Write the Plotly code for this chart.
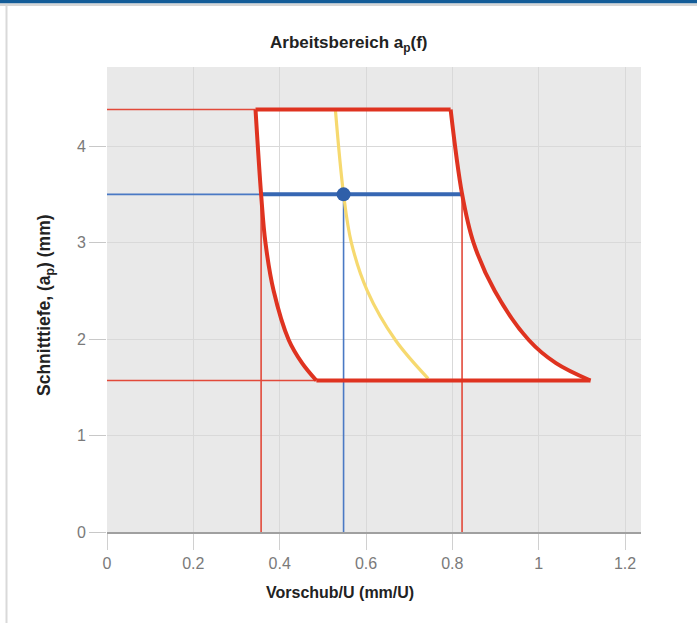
import plotly.graph_objects as go

# ---- data ----
ap_max = 4.38          # upper cutting depth limit (mm)
ap_min = 1.57          # lower cutting depth limit (mm)
f_sel = 0.548          # selected feed (mm/U)
ap_sel = 3.5           # selected cutting depth (mm)
f_min_at_sel = 0.357   # left boundary at selected depth
f_max_at_sel = 0.8225  # right boundary at selected depth

f_left = [0.344, 0.357, 0.367, 0.386, 0.421, 0.452, 0.485]
ap_left = [4.38, 3.5, 3.0, 2.5, 1.99, 1.75, 1.57]

f_right = [0.796, 0.8225, 0.849, 0.898, 0.977, 1.040, 1.120]
ap_right = [4.38, 3.505, 3.0, 2.5, 1.99, 1.75, 1.57]

f_yellow = [0.529, 0.548, 0.566, 0.603, 0.668, 0.744]
ap_yellow = [4.38, 3.5, 3.0, 2.5, 1.99, 1.59]

x_ticks = [0, 0.2, 0.4, 0.6, 0.8, 1, 1.2]
x_tick_text = ["0", "0.2", "0.4", "0.6", "0.8", "1", "1.2"]
y_ticks = [0, 1, 2, 3, 4]
y_tick_text = ["0", "1", "2", "3", "4"]

RED = "#df3320"
RED_THIN = "#e2493a"
BLUE = "#3667b3"
BLUE_THIN = "#4a79c4"
YELLOW = "#f6d96f"
FONT = "Liberation Sans, Arial, sans-serif"

W, H = 697, 623
L, R, T, B = 107, 56, 67, 91
PW, PH = W - L - R, H - T - B


def px_x(px):
    return (px - L) / PW


def px_y(py):
    return (H - B - py) / PH


fig = go.Figure()

thin = dict(width=1.6)
# thin guide lines
fig.add_trace(go.Scatter(x=[0, f_left[0]], y=[ap_max, ap_max], mode="lines",
                         line=dict(color=RED_THIN, **thin), hoverinfo="skip"))
fig.add_trace(go.Scatter(x=[0, f_left[-1]], y=[ap_min, ap_min], mode="lines",
                         line=dict(color=RED_THIN, **thin), hoverinfo="skip"))
fig.add_trace(go.Scatter(x=[f_min_at_sel, f_min_at_sel], y=[0, ap_sel], mode="lines",
                         line=dict(color=RED_THIN, **thin), hoverinfo="skip"))
fig.add_trace(go.Scatter(x=[f_max_at_sel, f_max_at_sel], y=[0, ap_sel], mode="lines",
                         line=dict(color=RED_THIN, **thin), hoverinfo="skip"))
fig.add_trace(go.Scatter(x=[0, f_min_at_sel], y=[ap_sel, ap_sel], mode="lines",
                         line=dict(color=BLUE_THIN, **thin), hoverinfo="skip"))
fig.add_trace(go.Scatter(x=[f_sel, f_sel], y=[0, ap_sel], mode="lines",
                         line=dict(color=BLUE_THIN, **thin), hoverinfo="skip"))

# yellow curve
fig.add_trace(go.Scatter(x=f_yellow, y=ap_yellow, mode="lines",
                         line=dict(color=YELLOW, width=3.2, shape="spline", smoothing=1.0),
                         hoverinfo="skip"))

# thick blue line at selected depth
fig.add_trace(go.Scatter(x=[f_min_at_sel, f_max_at_sel], y=[ap_sel, ap_sel], mode="lines",
                         line=dict(color=BLUE, width=4), hoverinfo="skip"))

# red working-area boundary
fig.add_trace(go.Scatter(x=f_left, y=ap_left, mode="lines",
                         line=dict(color=RED, width=4, shape="spline", smoothing=1.0),
                         hoverinfo="skip"))
fig.add_trace(go.Scatter(x=f_right, y=ap_right, mode="lines",
                         line=dict(color=RED, width=4, shape="spline", smoothing=1.0),
                         hoverinfo="skip"))
fig.add_trace(go.Scatter(x=[f_left[0], f_right[0]], y=[ap_max, ap_max], mode="lines",
                         line=dict(color=RED, width=4), hoverinfo="skip"))
fig.add_trace(go.Scatter(x=[f_left[-1], f_right[-1]], y=[ap_min, ap_min], mode="lines",
                         line=dict(color=RED, width=4), hoverinfo="skip"))

# selected point
fig.add_trace(go.Scatter(x=[f_sel], y=[ap_sel], mode="markers",
                         marker=dict(color="#2f5fa9", size=14), hoverinfo="skip"))

# white interior of the working area, below grid lines
pts = ([(f, a) for f, a in zip(f_right, ap_right)] +
       [(f, a) for f, a in zip(f_left[::-1], ap_left[::-1])])
path = "M " + " L ".join(f"{f},{a}" for f, a in pts) + " Z"

shapes = [
    dict(type="path", path=path, xref="x", yref="y", layer="below",
         fillcolor="white", line=dict(width=0)),
    # page decoration: top blue bar, grey strip, left border
    dict(type="rect", xref="paper", yref="paper", x0=px_x(0), x1=px_x(W),
         y0=px_y(0), y1=px_y(3.5), fillcolor="#135c98", line=dict(width=0), layer="above"),
    dict(type="rect", xref="paper", yref="paper", x0=px_x(0), x1=px_x(W),
         y0=px_y(3.5), y1=px_y(6), fillcolor="#d6d6d6", line=dict(width=0), layer="above"),
    dict(type="rect", xref="paper", yref="paper", x0=px_x(5.5), x1=px_x(7.5),
         y0=px_y(H), y1=px_y(6), fillcolor="#d9d9d9", line=dict(width=0), layer="above"),
]

annotations = [
    dict(text="<b>Arbeitsbereich a<sub>p</sub>(f)</b>", xref="paper", yref="paper",
         x=px_x(348.5), y=px_y(44), xanchor="center", yanchor="middle", showarrow=False,
         font=dict(family=FONT, size=17, color="#222222")),
    dict(text="<b>Vorschub/U (mm/U)</b>", xref="paper", yref="paper",
         x=px_x(340), y=px_y(592), xanchor="center", yanchor="middle", showarrow=False,
         font=dict(family=FONT, size=16, color="#222222")),
    dict(text="<b>Schnitttiefe, (a<sub>p</sub>) (mm)</b>", xref="paper", yref="paper",
         x=px_x(45), y=px_y(305), xanchor="center", yanchor="middle", showarrow=False,
         textangle=-90, font=dict(family=FONT, size=17.5, color="#222222")),
]

fig.update_layout(
    width=W, height=H,
    margin=dict(l=L, r=R, t=T, b=B),
    paper_bgcolor="white",
    plot_bgcolor="#e9e9e9",
    showlegend=False,
    shapes=shapes,
    annotations=annotations,
    font=dict(family=FONT),
    xaxis=dict(range=[0, 1.237], tickvals=x_ticks, ticktext=x_tick_text,
               showgrid=True, gridcolor="#d9d9d9", gridwidth=1, zeroline=False,
               showline=True, linecolor="#a0a0a0", linewidth=1.5,
               ticks="outside", ticklen=16, tickcolor="#d0d0d0", tickwidth=1,
               tickfont=dict(family=FONT, size=16, color="#7a7a7a"), fixedrange=True),
    yaxis=dict(range=[0, 4.82], tickvals=y_ticks, ticktext=y_tick_text,
               showgrid=True, gridcolor="#d9d9d9", gridwidth=1, zeroline=False,
               showline=False,
               ticks="outside", ticklen=17, tickcolor="#c8c8c8", tickwidth=1,
               tickfont=dict(family=FONT, size=16, color="#7a7a7a"), fixedrange=True),
)

fig.write_html("out.html", config={"displayModeBar": False},
               post_script="document.body.style.margin='0';")
